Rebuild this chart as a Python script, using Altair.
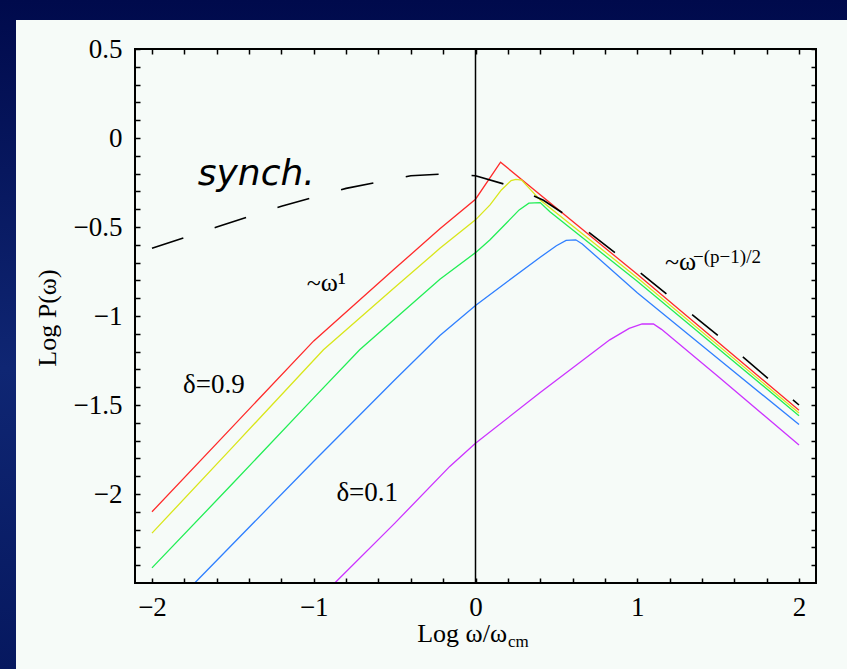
import altair as alt
import pandas as pd

# ---- spectra: Log P(omega) against Log omega/omega_cm, one curve per delta ----
delta_labels = ["0.9", "0.7", "0.5", "0.3", "0.1"]
line_colors = ["#ff2a2a", "#d9e61a", "#22ee55", "#2f7fff", "#cc33ff"]

red_x = [-2.0, -1.5, -1.0, -0.5, -0.22, 0.0, 0.155, 1.0, 2.0]
red_y = [-2.10, -1.62, -1.14, -0.735, -0.51, -0.344, -0.136, -0.766, -1.53]

yellow_x = [-2.0, -1.5, -0.94, -0.5, -0.22, 0.0, 0.09, 0.16, 0.22, 0.25, 0.285, 0.34, 0.4, 1.0, 2.0]
yellow_y = [-2.22, -1.735, -1.19, -0.84, -0.62, -0.46, -0.376, -0.292, -0.239, -0.232, -0.236, -0.29, -0.348, -0.785, -1.545]

green_x = [-2.0, -1.5, -1.0, -0.716, -0.22, 0.0, 0.09, 0.19, 0.27, 0.33, 0.4, 0.46, 1.0, 2.0]
green_y = [-2.415, -1.94, -1.46, -1.19, -0.793, -0.644, -0.572, -0.479, -0.404, -0.366, -0.363, -0.414, -0.805, -1.56]

blue_x = [-1.736, -1.0, -0.5, -0.22, 0.0, 0.2, 0.4, 0.5, 0.56, 0.62, 0.66, 1.0, 1.5, 2.0]
blue_y = [-2.5, -1.816, -1.36, -1.11, -0.941, -0.805, -0.67, -0.605, -0.575, -0.572, -0.595, -0.87, -1.24, -1.61]

magenta_x = [-0.87, -0.5, -0.159, 0.0, 0.4, 0.83, 0.95, 1.03, 1.1, 1.15, 1.5, 2.0]
magenta_y = [-2.5, -2.165, -1.845, -1.715, -1.43, -1.134, -1.07, -1.045, -1.045, -1.075, -1.34, -1.725]

# synchrotron reference spectrum (dashed)
synch_x = [-2.0, -1.6, -1.2, -0.8, -0.4, -0.2, 0.0, 0.23, 0.42, 0.6, 0.92, 1.5, 2.0]
synch_y = [-0.62, -0.50, -0.383, -0.283, -0.212, -0.202, -0.212, -0.273, -0.35, -0.458, -0.685, -1.11, -1.5]

# axis tick positions
x_ticks = [-2.0, -1.8, -1.6, -1.4, -1.2, -1.0, -0.8, -0.6, -0.4, -0.2, 0.0,
           0.2, 0.4, 0.6, 0.8, 1.0, 1.2, 1.4, 1.6, 1.8, 2.0]
y_ticks = [-2.4, -2.3, -2.2, -2.1, -2.0, -1.9, -1.8, -1.7, -1.6, -1.5, -1.4,
           -1.3, -1.2, -1.1, -1.0, -0.9, -0.8, -0.7, -0.6, -0.5, -0.4, -0.3,
           -0.2, -0.1, 0.0, 0.1, 0.2, 0.3, 0.4, 0.5]

# ---- tables ----
series = [(red_x, red_y), (yellow_x, yellow_y), (green_x, green_y),
          (blue_x, blue_y), (magenta_x, magenta_y)]
rows = []
for lab, (xs, ys) in zip(delta_labels, series):
    rows += [{"delta": lab, "x": a, "y": b} for a, b in zip(xs, ys)]
curves = pd.DataFrame(rows)
synch = pd.DataFrame({"x": synch_x, "y": synch_y})
one = pd.DataFrame({"k": [0]})

W, H = 681, 534
PAD = {"left": 135, "top": 49, "right": 31, "bottom": 86}
SERIF = "Liberation Serif"

xscale = alt.Scale(domain=[-2.105, 2.105], nice=False, zero=False)
yscale = alt.Scale(domain=[-2.5, 0.5], nice=False, zero=False)


def frame_axis(orient, values, label_expr=None, pad=12):
    """Inward-pointing ticks on one side of the frame."""
    kw = dict(orient=orient, values=values, tickSize=5, offset=-5, domain=False,
              grid=False, tickColor="black", tickWidth=1.5, title=None, zindex=1)
    if label_expr:
        kw.update(labelExpr=label_expr, format="~g", labelFont=SERIF,
                  labelFontSize=27, labelColor="black", labelPadding=pad,
                  labelOverlap=False, labelFlush=False)
    else:
        kw.update(labels=False)
    return alt.Axis(**kw)


x_major = "abs(datum.value - round(datum.value)) < 0.001 ? datum.label : ''"
y_major = "abs(2*datum.value - round(2*datum.value)) < 0.001 ? datum.label : ''"

# slide background and white panel
backdrop = alt.Chart(one).mark_rect(
    fill=alt.Gradient(
        gradient="linear", x1=0, x2=0, y1=0, y2=1,
        stops=[alt.GradientStop(color="#000a4c", offset=0),
               alt.GradientStop(color="#0f2673", offset=0.55),
               alt.GradientStop(color="#06185f", offset=1)])
).encode(x=alt.value(-PAD["left"]), x2=alt.value(W + PAD["right"]),
         y=alt.value(-PAD["top"]), y2=alt.value(H + PAD["bottom"]))

panel = alt.Chart(one).mark_rect(fill="#f6fbf8").encode(
    x=alt.value(16 - PAD["left"]), x2=alt.value(W + PAD["right"]),
    y=alt.value(20 - PAD["top"]), y2=alt.value(H + PAD["bottom"]))

lines = alt.Chart(curves).mark_line(strokeWidth=1.3).encode(
    x=alt.X("x:Q", scale=xscale, axis=frame_axis("bottom", x_ticks, x_major, 11)),
    y=alt.Y("y:Q", scale=yscale, axis=frame_axis("left", y_ticks, y_major, 13)),
    color=alt.Color("delta:N", scale=alt.Scale(domain=delta_labels, range=line_colors),
                    legend=None),
)

synch_line = alt.Chart(synch).mark_line(
    color="black", strokeWidth=1.6, strokeDash=[33, 33]
).encode(
    x=alt.X("x:Q", scale=xscale, axis=frame_axis("top", x_ticks)),
    y=alt.Y("y:Q", scale=yscale, axis=frame_axis("right", y_ticks)),
)

zero_rule = alt.Chart(one).mark_rule(color="black", strokeWidth=1.5).encode(
    x=alt.XDatum(0, type="quantitative", scale=xscale, axis=None))

frame = alt.Chart(one).mark_rect(fillOpacity=0, stroke="black", strokeWidth=2).encode(
    x=alt.value(0), x2=alt.value(W), y=alt.value(0), y2=alt.value(H))


def note(text, x, y, **style):
    return alt.Chart(one).mark_text(align="left", baseline="alphabetic",
                                    color="black", **style).encode(
        x=alt.XDatum(x, type="quantitative", scale=xscale, axis=None),
        y=alt.YDatum(y, type="quantitative", scale=yscale, axis=None),
        text=alt.value(text))


notes = [
    note("synch.", -1.717, -0.264, font="DejaVu Sans", fontStyle="italic", fontSize=36),
    note("~ω¹", -1.043, -0.859, font=SERIF, fontSize=26),
    note("~ω", 1.171, -0.741, font=SERIF, fontSize=26),
    note("−(p−1)/2", 1.345, -0.700, font=SERIF, fontSize=19),
    note("δ=0.9", -1.808, -1.433, font=SERIF, fontSize=27),
    note("δ=0.1", -0.860, -2.042, font=SERIF, fontSize=27),
]

x_title = alt.Chart(one).mark_text(align="right", baseline="alphabetic", font=SERIF,
                                   fontSize=26, color="black").encode(
    x=alt.value(372), y=alt.value(593), text=alt.value("Log ω/ω"))
x_title_sub = alt.Chart(one).mark_text(align="left", baseline="alphabetic", font=SERIF,
                                       fontSize=17, color="black").encode(
    x=alt.value(373), y=alt.value(598), text=alt.value("cm"))
y_title = alt.Chart(one).mark_text(align="center", baseline="middle", font=SERIF,
                                   fontSize=26, angle=270, color="black").encode(
    x=alt.value(-87), y=alt.value(269), text=alt.value("Log P(ω)"))

chart = alt.layer(
    backdrop, panel, lines, synch_line, zero_rule, frame, *notes,
    x_title, x_title_sub, y_title,
).resolve_axis(
    x="independent", y="independent"
).properties(
    width=W, height=H, padding=PAD, autosize=alt.AutoSizeParams(type="none"),
).configure_view(stroke=None).configure(background="#000a4c")

chart.save("out.html", embed_options={"renderer": "svg", "actions": False})
